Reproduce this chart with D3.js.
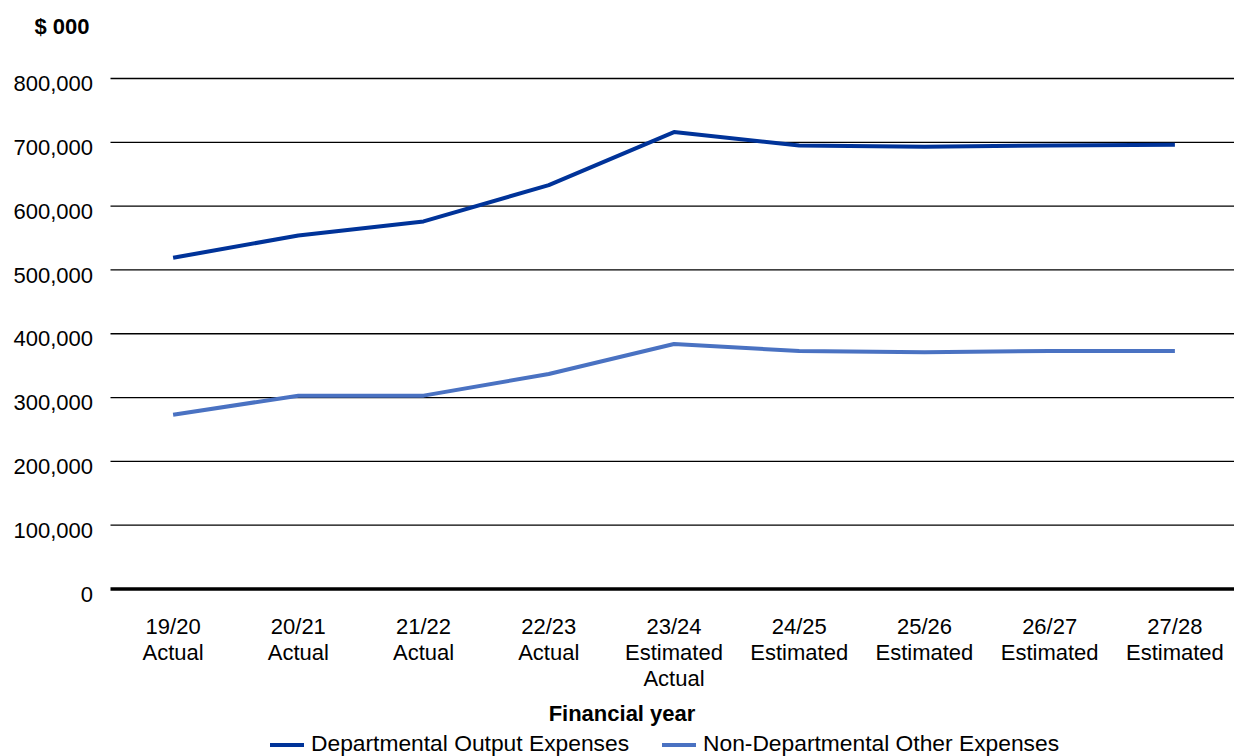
<!DOCTYPE html>
<html><head><meta charset="utf-8">
<script src="https://cdn.jsdelivr.net/npm/d3@7"></script>
<style>body{margin:0;background:#fff;} svg{display:block;font-family:"Liberation Sans",Arial,sans-serif;}</style>
</head><body><svg id="c" width="1234" height="756"></svg>
<script>
const categories = [["19/20","Actual"],["20/21","Actual"],["21/22","Actual"],["22/23","Actual"],["23/24","Estimated","Actual"],["24/25","Estimated"],["25/26","Estimated"],["26/27","Estimated"],["27/28","Estimated"]];
const departmental = [519000, 554000, 576000, 633000, 716000, 695000, 693000, 695000, 696000];
const nonDepartmental = [273000, 303000, 303000, 337000, 384000, 373000, 371000, 373000, 373000];
const yTicks = [0, 100000, 200000, 300000, 400000, 500000, 600000, 700000, 800000];
const seriesNames = ["Departmental Output Expenses", "Non-Departmental Other Expenses"];
const colors = ["#003399", "#4a72c2"];

(function(){
const svg = d3.select("#c");
const pLeft = 110.5, pRight = 1237.5, gridRight = 1234, pTop = 78.5, pBottom = 589;
const x = d3.scaleBand().domain(categories.map((d,i)=>i)).range([pLeft, pRight]);
const y = d3.scaleLinear().domain([0, 800000]).range([pBottom, pTop]);
const fmt = d3.format(",");

svg.append("g").selectAll("line").data(yTicks.filter(d=>d>0)).join("line")
  .attr("x1", pLeft).attr("x2", gridRight).attr("y1", d=>y(d)).attr("y2", d=>y(d))
  .attr("stroke", "#000").attr("stroke-width", 1.3);
svg.append("g").selectAll("text").data(yTicks).join("text")
  .attr("x", 93).attr("y", d=>y(d)+5).attr("dy", "0.35em").attr("text-anchor", "end")
  .attr("font-size", 22).attr("fill", "#000").text(d=>fmt(d));
svg.append("line").attr("x1", pLeft).attr("x2", gridRight).attr("y1", y(0)).attr("y2", y(0))
  .attr("stroke", "#000").attr("stroke-width", 3.5);

const xl = svg.append("g").selectAll("text").data(categories).join("text")
  .attr("text-anchor", "middle").attr("font-size", 22).attr("fill", "#000");
xl.each(function(d,i){
  const t = d3.select(this);
  d.forEach((s,j)=>{
    t.append("tspan").attr("x", x(i)+x.bandwidth()/2).attr("y", 634 + j*26).text(s);
  });
});

const line = d3.line().x((d,i)=>x(i)+x.bandwidth()/2).y(d=>y(d));
[departmental, nonDepartmental].forEach((s,k)=>{
  svg.append("path").datum(s).attr("d", line).attr("fill","none")
    .attr("stroke", colors[k]).attr("stroke-width", 4).attr("stroke-linejoin","round");
});

svg.append("text").attr("x", 62).attr("y", 34).attr("text-anchor","middle")
  .attr("font-size", 22).attr("font-weight","bold").text("$ 000");
svg.append("text").attr("x", 622).attr("y", 721).attr("text-anchor","middle")
  .attr("font-size", 22).attr("font-weight","bold").text("Financial year");

const legX = [270, 662];
seriesNames.forEach((n,k)=>{
  svg.append("line").attr("x1", legX[k]).attr("x2", legX[k]+34).attr("y1", 745).attr("y2", 745)
    .attr("stroke", colors[k]).attr("stroke-width", 4);
  svg.append("text").attr("x", legX[k]+41).attr("y", 751).attr("font-size", 22.8).text(n);
});
})();
</script></body></html>
